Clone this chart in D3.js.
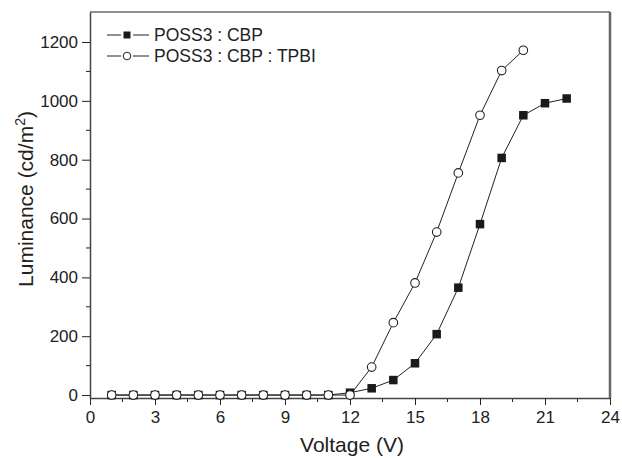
<!DOCTYPE html>
<html>
<head>
<meta charset="utf-8">
<script src="https://cdn.jsdelivr.net/npm/d3@7"></script>
<style>
  body { margin: 0; background: #fff; }
  text { font-family: "Liberation Sans", Arial, sans-serif; fill: #222; }
</style>
</head>
<body>
<div id="chart-area"></div>
<script>
// data
var voltage = [1, 2, 3, 4, 5, 6, 7, 8, 9, 10, 11, 12, 13, 14, 15, 16, 17, 18, 19, 20, 21, 22];
var lumCBP = [0, 0, 0, 0, 0, 0, 0, 0, 0, 0, 0, 8, 23, 51, 108, 207, 365, 581, 806, 951, 992, 1008];
var voltageTPBI = [1, 2, 3, 4, 5, 6, 7, 8, 9, 10, 11, 12, 13, 14, 15, 16, 17, 18, 19, 20];
var lumTPBI = [0, 0, 0, 0, 0, 0, 0, 0, 0, 0, 0, 0, 95, 246, 381, 554, 755, 951, 1103, 1172];
var xTicks = [0, 3, 6, 9, 12, 15, 18, 21, 24];
var yTicks = [0, 200, 400, 600, 800, 1000, 1200];
var legendNames = ["POSS3 : CBP", "POSS3 : CBP : TPBI"];

var margin = {top: 12, right: 12, bottom: 60, left: 90};
var width = 610 - 90;
var height = 398 - 12;

var svg = d3.select("#chart-area")
    .append("svg")
        .attr("width", 622)
        .attr("height", 458);

var g = svg.append("g")
    .attr("transform", "translate(" + margin.left + ", " + margin.top + ")");

var x = d3.scaleLinear().domain([0, 24]).range([0, width]);
var y = d3.scaleLinear().domain([-10, 1302]).range([height, 0]);

// minor ticks
var xMinor = d3.range(1.5, 24, 3);
var yMinor = d3.range(100, 1300, 200);

g.selectAll(".xminor").data(xMinor).enter().append("line")
    .attr("x1", (d) => x(d)).attr("x2", (d) => x(d))
    .attr("y1", height).attr("y2", height + 4)
    .attr("stroke", "#222");

g.selectAll(".yminor").data(yMinor).enter().append("line")
    .attr("x1", 0).attr("x2", -4)
    .attr("y1", (d) => y(d)).attr("y2", (d) => y(d))
    .attr("stroke", "#222");

var xAxisCall = d3.axisBottom(x).tickValues(xTicks).tickFormat(d3.format("d"))
    .tickSize(7).tickPadding(6).tickSizeOuter(0);
var yAxisCall = d3.axisLeft(y).tickValues(yTicks).tickFormat(d3.format("d"))
    .tickSize(8).tickPadding(4).tickSizeOuter(0);

var xAxisGroup = g.append("g")
    .attr("transform", "translate(0, " + height + ")")
    .call(xAxisCall);
var yAxisGroup = g.append("g").call(yAxisCall);

[xAxisGroup, yAxisGroup].forEach((ag) => {
    ag.selectAll("text").attr("font-size", "17px").style("fill", "#222");
    ag.selectAll("line").attr("stroke", "#222");
    ag.select(".domain").attr("stroke", "#444").attr("stroke-width", 1.5);
});

// frame top and right
g.append("line").attr("x1", 0).attr("x2", width).attr("y1", 0).attr("y2", 0)
    .attr("stroke", "#222").attr("stroke-width", 1.2);
g.append("line").attr("x1", width).attr("x2", width).attr("y1", 0).attr("y2", height)
    .attr("stroke", "#666").attr("stroke-width", 2.5);

// axis labels
svg.append("text")
    .attr("x", 352)
    .attr("y", 452)
    .attr("font-size", "21px")
    .attr("text-anchor", "middle")
    .text("Voltage (V)");

var yLabel = svg.append("text")
    .attr("transform", "translate(33, 199) rotate(-90)")
    .attr("font-size", "21px")
    .attr("text-anchor", "middle");
yLabel.append("tspan").text("Luminance (cd/m");
yLabel.append("tspan").attr("font-size", "14px").attr("dy", -8).text("2");
yLabel.append("tspan").attr("dy", 8).text(")");

var line = d3.line().x((d) => x(d[0])).y((d) => y(d[1]));

var cbp = voltage.map((v, i) => [v, lumCBP[i]]);
var tpbi = voltageTPBI.map((v, i) => [v, lumTPBI[i]]);

g.append("path").datum(cbp).attr("d", line)
    .attr("fill", "none").attr("stroke", "#222").attr("stroke-width", 1);
g.append("path").datum(tpbi).attr("d", line)
    .attr("fill", "none").attr("stroke", "#222").attr("stroke-width", 1);

g.selectAll(".sq").data(cbp).enter().append("rect")
    .attr("x", (d) => x(d[0]) - 4.25)
    .attr("y", (d) => y(d[1]) - 4.25)
    .attr("width", 8.5).attr("height", 8.5)
    .attr("fill", "#1a1a1a");

g.selectAll(".circ").data(tpbi).enter().append("circle")
    .attr("cx", (d) => x(d[0]))
    .attr("cy", (d) => y(d[1]))
    .attr("r", 4.3)
    .attr("fill", "#fff").attr("stroke", "#222").attr("stroke-width", 1.1);

// legend
var legend = svg.append("g").attr("transform", "translate(107, 0)");
legendNames.forEach((name, i) => {
    var ly = 35 + i * 21;
    legend.append("line").attr("x1", 0).attr("x2", 42).attr("y1", ly).attr("y2", ly)
        .attr("stroke", "#222").attr("stroke-width", 1);
    legend.append("rect").attr("x", 14).attr("y", ly - 5).attr("width", 12).attr("height", 10)
        .attr("fill", "#fff");
    if (i == 0) {
        legend.append("rect").attr("x", 16.5).attr("y", ly - 3.5).attr("width", 7).attr("height", 7)
            .attr("fill", "#1a1a1a");
    } else {
        legend.append("circle").attr("cx", 20).attr("cy", ly).attr("r", 3.8)
            .attr("fill", "#fff").attr("stroke", "#222");
    }
    legend.append("text").attr("x", 47).attr("y", ly + 6)
        .attr("font-size", "17.5px")
        .text(name);
});
</script>
</body>
</html>
